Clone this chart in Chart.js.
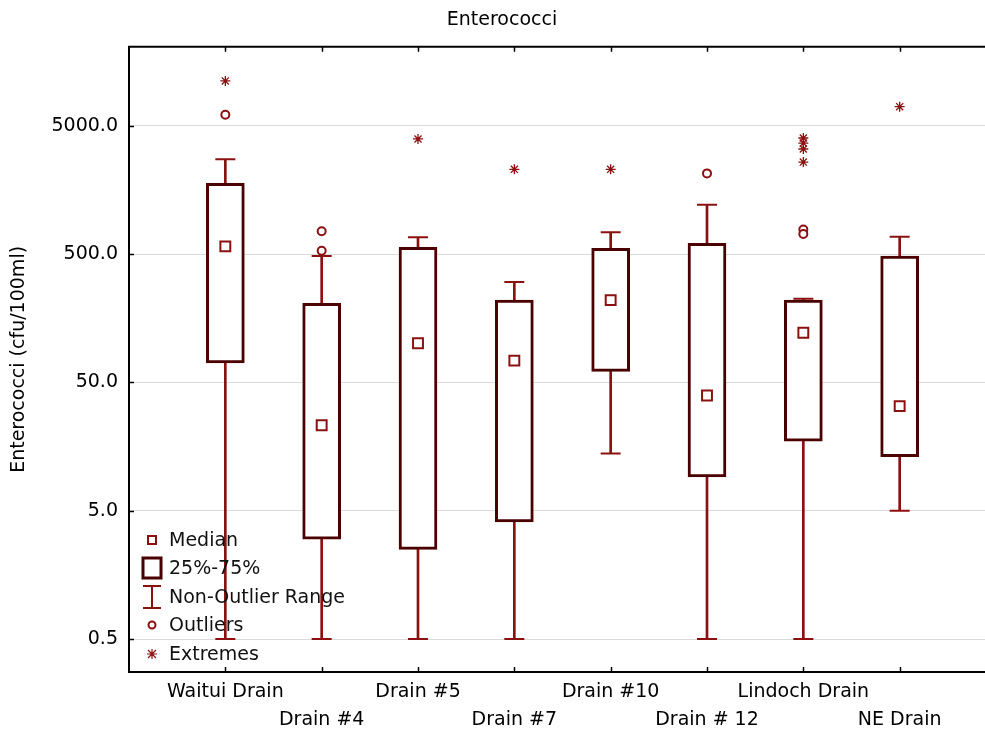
<!DOCTYPE html>
<html>
<head>
<meta charset="utf-8">
<script src="https://cdn.jsdelivr.net/npm/chart.js@4.4.1/dist/chart.umd.min.js"></script>
<style>
  html, body { margin: 0; padding: 0; background: #fff; overflow: hidden; }
  #wrap { width: 985px; height: 731px; overflow: hidden; }
</style>
</head>
<body>
<div id="wrap"><canvas id="enterococci" width="1008" height="731"></canvas></div>
<script>
"use strict";

const drains = ["Waitui Drain", "Drain #4", "Drain #5", "Drain #7", "Drain #10", "Drain # 12", "Lindoch Drain", "NE Drain"];
const whiskerLow = [0.5, 0.5, 0.5, 0.5, 14, 0.5, 0.5, 5];
const boxLow = [71, 3.0, 2.5, 4.1, 61, 9.2, 17.4, 13.2];
const medians = [575, 23.2, 101, 74, 219, 39.6, 122, 32.7];
const boxHigh = [1780, 207, 565, 219, 555, 607, 219, 483];
const whiskerHigh = [2740, 483, 676, 303, 740, 1213, 225, 684];
const outliers = [
  ["Waitui Drain", 6100], ["Drain #4", 753], ["Drain #4", 532],
  ["Drain # 12", 2130], ["Lindoch Drain", 779], ["Lindoch Drain", 718]
];
const extremes = [
  ["Waitui Drain", 11200], ["Drain #5", 3950], ["Drain #7", 2290], ["Drain #10", 2290],
  ["Lindoch Drain", 4020], ["Lindoch Drain", 3670], ["Lindoch Drain", 3300], ["Lindoch Drain", 2610],
  ["NE Drain", 7050]
];
const yTicks = [0.5, 5, 50, 500, 5000];

const boxColor = "#4a0000";
const markColor = "#8b1010";
const font = "DejaVu Sans";

// empty slots at both ends so the drains sit at 1..8 of a 0..9 axis
const labels = [""].concat(drains, [""]);
const pad = (arr) => [null].concat(arr, [null]);

const ctx = document.getElementById("enterococci");

// frame top line, inward tick marks and the legend
const framePlugin = {
  id: "frame",
  afterDraw(chart) {
    const c = chart.ctx;
    const a = chart.chartArea;
    const x = chart.scales.x;
    const y = chart.scales.y;
    c.save();
    c.strokeStyle = "#000";
    c.lineWidth = 2;
    c.beginPath();
    c.moveTo(a.left - 1, a.top);
    c.lineTo(a.right, a.top);
    c.stroke();
    c.lineWidth = 1.5;
    for (let i = 1; i <= drains.length; i++) {
      const px = Math.round(x.getPixelForValue(i)) + 0.5;
      c.beginPath();
      c.moveTo(px, a.top);
      c.lineTo(px, a.top + 5);
      c.moveTo(px, a.bottom);
      c.lineTo(px, a.bottom - 5);
      c.stroke();
    }
    yTicks.forEach((v) => {
      const py = Math.round(y.getPixelForValue(v)) + 0.5;
      c.beginPath();
      c.moveTo(a.left, py);
      c.lineTo(a.left + 5, py);
      c.stroke();
    });

    // legend
    const lx = 152, tx = 169;
    const rows = [540, 568, 597, 625, 654];
    const names = ["Median", "25%-75%", "Non-Outlier Range", "Outliers", "Extremes"];
    c.fillStyle = "#fff";
    c.strokeStyle = markColor;
    c.lineWidth = 2;
    c.fillRect(lx - 4, rows[0] - 4, 8, 8);
    c.strokeRect(lx - 4, rows[0] - 4, 8, 8);
    c.strokeStyle = boxColor;
    c.lineWidth = 3;
    c.strokeRect(lx - 9, rows[1] - 10, 18, 20);
    c.strokeStyle = markColor;
    c.lineWidth = 2;
    c.beginPath();
    c.moveTo(lx - 9, rows[2] - 11);
    c.lineTo(lx + 9, rows[2] - 11);
    c.moveTo(lx, rows[2] - 11);
    c.lineTo(lx, rows[2] + 11);
    c.moveTo(lx - 9, rows[2] + 11);
    c.lineTo(lx + 9, rows[2] + 11);
    c.stroke();
    c.beginPath();
    c.arc(lx, rows[3], 3.5, 0, Math.PI * 2);
    c.stroke();
    c.lineWidth = 1.2;
    c.beginPath();
    c.moveTo(lx - 5, rows[4]);
    c.lineTo(lx + 5, rows[4]);
    c.moveTo(lx, rows[4] - 5);
    c.lineTo(lx, rows[4] + 5);
    c.moveTo(lx - 4, rows[4] - 4);
    c.lineTo(lx + 4, rows[4] + 4);
    c.moveTo(lx - 4, rows[4] + 4);
    c.lineTo(lx + 4, rows[4] - 4);
    c.stroke();
    c.fillStyle = "#111";
    c.font = "19px '" + font + "'";
    c.textBaseline = "middle";
    c.textAlign = "left";
    names.forEach((n, i) => c.fillText(n, tx, rows[i] + 1));
    c.restore();
  },
};

new Chart(ctx, {
  type: "bar",
  data: {
    labels: labels,
    datasets: [
      {
        label: "Non-Outlier Range",
        data: pad(whiskerLow.map((v, i) => [v, whiskerHigh[i]])),
        backgroundColor: markColor,
        borderWidth: 0,
        barThickness: 2,
        grouped: false,
        order: 5,
      },
      {
        label: "25%-75%",
        data: pad(boxLow.map((v, i) => [v, boxHigh[i]])),
        backgroundColor: "#fff",
        borderColor: boxColor,
        borderWidth: 3,
        borderSkipped: false,
        barThickness: 38,
        grouped: false,
        order: 4,
      },
      {
        type: "line",
        label: "caps low",
        data: pad(whiskerLow),
        showLine: false,
        pointStyle: "line",
        pointRadius: 10,
        borderColor: markColor,
        pointBorderWidth: 2,
        order: 3,
      },
      {
        type: "line",
        label: "caps high",
        data: pad(whiskerHigh),
        showLine: false,
        pointStyle: "line",
        pointRadius: 10,
        borderColor: markColor,
        pointBorderWidth: 2,
        order: 3,
      },
      {
        type: "line",
        label: "Median",
        data: pad(medians),
        showLine: false,
        pointStyle: "rect",
        pointRadius: 7,
        pointBackgroundColor: "#fff",
        pointBorderColor: markColor,
        pointBorderWidth: 2,
        order: 2,
      },
      {
        type: "line",
        label: "Outliers",
        data: outliers.map((o) => ({ x: o[0], y: o[1] })),
        showLine: false,
        pointStyle: "circle",
        pointRadius: 4,
        pointBackgroundColor: "#fff",
        pointBorderColor: markColor,
        pointBorderWidth: 2,
        order: 1,
      },
      {
        type: "line",
        label: "Extremes",
        data: extremes.map((o) => ({ x: o[0], y: o[1] })),
        showLine: false,
        pointStyle: "star",
        pointRadius: 5,
        pointBorderColor: markColor,
        pointBorderWidth: 1.3,
        order: 0,
      },
    ],
  },
  options: {
    responsive: false,
    animation: false,
    layout: { padding: { top: 0, right: 4, bottom: 0, left: 0 } },
    plugins: {
      legend: { display: false },
      tooltip: { enabled: false },
      title: {
        display: true,
        text: "Enterococci",
        color: "#000",
        font: { family: font, size: 19, weight: "normal" },
        padding: { top: 9, bottom: 15 },
      },
    },
    scales: {
      x: {
        type: "category",
        offset: false,
        grid: { display: false, drawTicks: false },
        border: { display: true, color: "#000", width: 2 },
        ticks: {
          autoSkip: false,
          maxRotation: 0,
          padding: 6,
          color: "#000",
          font: { family: font, size: 19, lineHeight: 1.47 },
          callback: (value, index) => {
            const name = labels[index];
            if (!name) return "";
            return index % 2 === 1 ? [name, ""] : ["", name];
          },
        },
        afterFit: (scale) => { scale.height = 59; },
      },
      y: {
        type: "logarithmic",
        min: 0.277,
        max: 20650,
        grid: { color: "#dadada", lineWidth: 1, drawTicks: false },
        border: { display: true, color: "#000", width: 2 },
        afterBuildTicks: (scale) => { scale.ticks = yTicks.map((v) => ({ value: v })); },
        ticks: {
          padding: 11,
          color: "#000",
          font: { family: font, size: 19 },
          callback: (value) => Number(value).toFixed(1),
        },
        title: {
          display: true,
          text: "Enterococci (cfu/100ml)",
          color: "#000",
          font: { family: font, size: 19 },
          padding: { top: 8, bottom: 0 },
        },
        afterFit: (scale) => { scale.width = 129; },
      },
    },
  },
  plugins: [framePlugin],
});
</script>
</body>
</html>
